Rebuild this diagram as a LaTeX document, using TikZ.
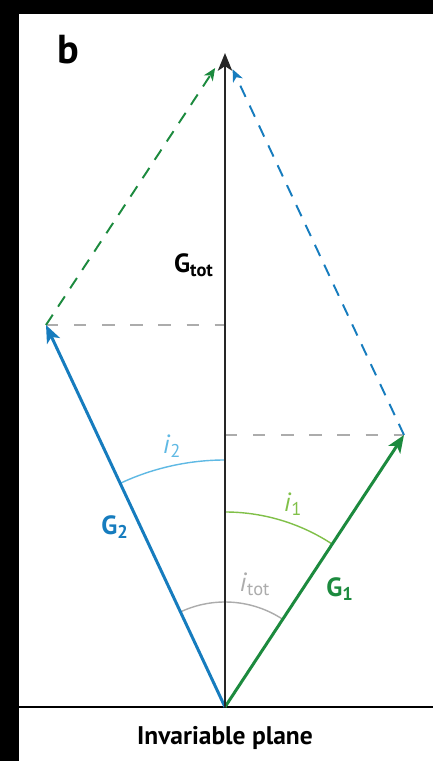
\documentclass[tikz,border=0pt]{standalone}
\usepackage{fontspec}
\setmainfont{PT Sans}
\usetikzlibrary{arrows.meta}

\definecolor{gblue}{RGB}{22,124,190}
\definecolor{lblue}{RGB}{95,185,228}
\definecolor{ggreen}{RGB}{28,138,62}
\definecolor{lgreen}{RGB}{128,192,72}
\definecolor{lgray}{RGB}{172,172,172}

\begin{document}
\begin{tikzpicture}[
    vec/.style={line width=1.7pt,-{Stealth[length=10pt,width=8pt,inset=2.5pt]}},
    sumvec/.style={line width=1.1pt,dash pattern=on 7pt off 5.5pt,shorten >=0.36cm,
      -{Stealth[length=7pt,width=6pt,inset=2pt]}},
    proj/.style={lgray,line width=1.1pt,dash pattern=on 7pt off 9pt},
    angarc/.style={line width=0.8pt},
    lab/.style={font=\fontsize{15}{15}\selectfont},
    vlab/.style={font=\bfseries\fontsize{15}{15}\selectfont}]
  % frame
  \fill[black] (-4.5,-1.08) rectangle (4.16,14.14);
  \fill[white] (-4.12,-1.08) rectangle (4.16,13.86);
  \useasboundingbox (-4.5,-1.08) rectangle (4.16,14.14);

  \coordinate (O) at (0,0);
  \coordinate (Gt) at (0,13.08);
  \coordinate (G1) at (3.58,5.44);
  \coordinate (G2) at (-3.58,7.64);
  \coordinate (P1) at (0,5.44);
  \coordinate (P2) at (0,7.64);
  \coordinate (L) at (-4.12,0);
  \coordinate (R) at (4.16,0);

  % plane
  \draw[line width=1.1pt] (L) -- (R);
  \node[font=\bfseries\fontsize{14.5}{14.5}\selectfont] (plane) at (0,-0.62) {Invariable plane};

  % projections
  \draw[proj] (G2) -- (P2);
  \draw[proj] (P1) -- (G1);

  % sum
  \draw[sumvec,ggreen] (G2) -- (Gt);
  \draw[sumvec,gblue] (G1) -- (Gt);

  % angles
  \draw[angarc,lblue] (O) ++(90:4.94) arc[start angle=90,end angle=115.1,radius=4.94];
  \draw[angarc,lgreen] (O) ++(90:3.9) arc[start angle=90,end angle=56.65,radius=3.9];
  \draw[angarc,lgray] (O) ++(56.65:2.1) arc[start angle=56.65,end angle=115.1,radius=2.1];

  % vectors
  \draw[vec,gblue] (O) -- (G2);
  \draw[vec,ggreen] (O) -- (G1);
  \draw[vec,line width=1.7pt,black!85] (O) -- (Gt);

  % labels
  \node[font=\bfseries\fontsize{23}{23}\selectfont] (panel) at (-3.14,13.14) {b};
  \node[vlab,anchor=east] (lGt) at (-0.1,8.84) {G\textsubscript{tot}};
  \node[vlab,gblue] (lG2) at (-2.2,3.6) {G\textsubscript{2}};
  \node[vlab,ggreen] (lG1) at (2.3,2.36) {G\textsubscript{1}};
  \node[lab,lblue] (li2) at (-1.06,5.22) {\textit{i}\textsubscript{2}};
  \node[lab,lgreen] (li1) at (1.36,4.06) {\textit{i}\textsubscript{1}};
  \node[lab,lgray] (lit) at (0.6,2.46) {\textit{i}\textsubscript{tot}};
\end{tikzpicture}
\end{document}
